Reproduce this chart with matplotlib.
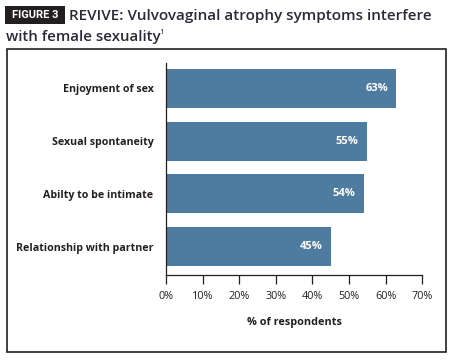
import matplotlib.pyplot as plt
from matplotlib.patches import Rectangle

categories = ["Enjoyment of sex", "Sexual spontaneity", "Abilty to be intimate", "Relationship with partner"]
values = [63, 55, 54, 45]
ticks = [0, 10, 20, 30, 40, 50, 60, 70]

plt.rcParams['font.family'] = ['Open Sans', 'DejaVu Sans']
ink = "#231f20"
title_col = "#2a2a3a"

fig = plt.figure(figsize=(4.5, 3.64), dpi=100)
ax = fig.add_axes([0.369, 0.2445, 0.569, 0.5825])

bar_col = "#4e7ba0"
pos = list(range(len(categories)))
ax.barh(pos, values, height=0.74, color=bar_col)
for p, v in zip(pos, values):
    ax.text(v - 2.3, p, f"{v}%", ha="right", va="center", color="white",
            fontsize=8, fontweight="bold")

ax.set_ylim(3.54, -0.48)
ax.set_xlim(0, 70)
ax.set_yticks(pos)
ax.set_yticklabels(categories, fontsize=7.7, fontweight="bold", color=ink)
ax.tick_params(axis="y", length=0, pad=9)
ax.set_xticks(ticks)
ax.set_xticklabels([f"{t}%" for t in ticks], fontsize=7.8, color=ink)
ax.tick_params(axis="x", length=6.5, width=0.9, pad=5, color=ink)
ax.set_xlabel("% of respondents", fontsize=7.8, fontweight="bold", color=ink, labelpad=11)
for s in ["top", "right"]:
    ax.spines[s].set_visible(False)
for s in ["left", "bottom"]:
    ax.spines[s].set_linewidth(0.9)
    ax.spines[s].set_color(ink)

# outer frame
fig.patches.append(Rectangle((7 / 450, 1 - 352 / 364), 439 / 450, 303 / 364,
                             transform=fig.transFigure, fill=False,
                             edgecolor=ink, linewidth=1.2))

# title
fig.patches.append(Rectangle((5 / 450, 1 - 24 / 364), 60 / 450, 18 / 364,
                             transform=fig.transFigure, facecolor=ink, edgecolor="none"))
fig.text(35 / 450, 1 - 15 / 364, "FIGURE 3", fontsize=8, fontweight="bold", color="white",
         va="center", ha="center", family=["Roboto", "DejaVu Sans"])
fig.text(69 / 450, 1 - 16 / 364, "REVIVE: Vulvovaginal atrophy symptoms interfere",
         fontsize=11, fontweight="semibold", color=title_col, va="center", ha="left")
line2 = fig.text(6 / 450, 1 - 37 / 364, "with female sexuality",
                 fontsize=10.8, fontweight="semibold", color=title_col, va="center", ha="left")
fig.canvas.draw()
bb = line2.get_window_extent()
fig.text((bb.x1 - 1) / 450, (bb.y1 + 1) / 364, "1", fontsize=6, color=title_col,
         va="top", ha="left")

fig.savefig("out.png", dpi=100)
